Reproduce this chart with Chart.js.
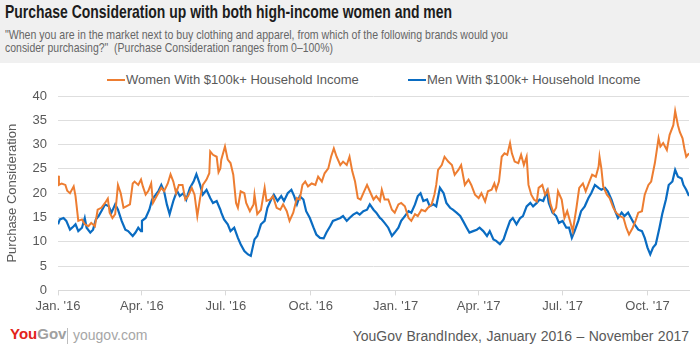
<!DOCTYPE html>
<html><head><meta charset="utf-8">
<script src="https://cdn.jsdelivr.net/npm/chart.js@4/dist/chart.umd.min.js"></script>
<style>
html,body{margin:0;padding:0;background:#fff;width:700px;height:351px;overflow:hidden;font-family:"Liberation Sans",Arial,sans-serif;}
#hdr{position:absolute;left:0;top:0;width:700px;height:63px;background:#f0f0f0;}
.fit{position:absolute;left:5px;white-space:nowrap;transform-origin:0 0;}
#title{top:2.6px;font-weight:bold;font-size:18.5px;line-height:18.5px;color:#1c1c1c;}
#sub1{top:27.5px;font-size:13.5px;line-height:13.5px;color:#666;}
#sub2{top:40.5px;font-size:13.5px;line-height:13.5px;color:#666;}
#legend{position:absolute;top:72px;left:0;width:700px;height:16px;font-size:13px;line-height:16px;color:#595959;}
.li{position:absolute;top:0;white-space:nowrap;}
.sw{display:inline-block;width:18px;height:2px;vertical-align:middle;margin-right:1px;position:relative;top:-1px;}
#wrap{position:absolute;left:0;top:63px;width:700px;height:260px;}
#logo{position:absolute;left:10px;top:326px;font-size:15px;font-weight:bold;line-height:16px;}
#sep{position:absolute;left:67px;top:328px;width:1px;height:16px;background:#bdbdbd;}
#site{position:absolute;left:73px;top:327px;font-size:14px;line-height:16px;color:#a6a6a6;}
#src{position:absolute;top:328px;font-size:14px;line-height:16px;color:#595959;white-space:nowrap;}
</style></head>
<body>
<div id="hdr">
  <div id="title" class="fit">Purchase Consideration up with both high-income women and men</div>
  <div id="sub1" class="fit">"When you are in the market next to buy clothing and apparel, from which of the following brands would you</div>
  <div id="sub2" class="fit">consider purchasing?"&nbsp; (Purchase Consideration ranges from 0–100%)</div>
</div>
<div id="legend"></div>
<div id="wrap"><canvas id="c"></canvas></div>
<div id="logo"><span style="color:#e2231a">You</span><span style="color:#a0a0a0">Gov</span></div>
<div id="sep"></div>
<div id="site">yougov.com</div>
<div id="src">YouGov BrandIndex, January 2016 – November 2017</div>
<script>
// x values are days since 1 Jan 2016
const womenDays = [0,1,4,8,10,13,17,19,22,26,29,33,36,40,43,47,51,54,56,59,62,65,68,71,74,78,81,83,87,90,92,95,98,101,103,107,112,115,119,122,125,128,131,135,138,141,145,148,151,154,157,161,164,165,168,172,174,176,
177,181,184,187,190,193,195,198,202,204,208,212,213,216,220,224,226,230,233,237,241,244,248,251,255,259,262,265,268,271,275,279,282,286,289,293,296,299,302,306,309,313,316,319,322,325,328,331,335,338,342,345,349,
351,354,358,362,365,369,372,376,380,383,387,390,394,398,401,405,408,410,412,416,419,423,427,430,434,437,441,445,448,452,456,459,463,466,470,473,475,478,481,484,487,490,492,495,499,502,505,508,510,513,516,519,521,
525,528,531,534,537,540,542,546,549,552,555,558,562,565,569,572,576,579,583,586,587,589,591,595,598,602,605,609,613,616,619,623,626,629,633,636,640,643,647,651,653,656,660,663,667,669,672,674,677,679,681,684];
const womenValues = [23.6,21.7,22,21.7,20.5,20,21.4,19.4,14.3,14.6,13.6,13.2,13.9,13.2,16.6,17,18,18.9,16,14.9,15.7,21.7,20,17,17.3,17.7,22,22.4,21.7,22.8,21.4,19.7,20.5,22,18,19.4,21.1,20.4,22,23.9,22.4,20,21.7,21.7,18.7,19.4,21.1,19.7,15.3,19,21.7,22.8,24.1,28.6,27.9,27.5,24.3,25.1,
26.9,29.6,26.9,26.2,23.8,18,17,20.4,20,18,16.3,17.7,19.7,15.7,16.6,21.1,18.4,18.7,19.4,17,16.6,17.7,16.3,14.3,16,19,18.7,21.7,22.4,21.4,22,21.7,23.4,22.4,24.1,25.1,27.5,29.2,27.5,25.8,26.5,25.8,27.5,24.5,22.4,19,18.7,20,21.7,20.4,18.7,19.4,18.4,
20.7,18.7,18.7,16.6,16,17.7,18,17.3,14.9,14.3,15.7,15.3,16.6,16.3,17,17.7,19.7,21.7,24.8,25.8,27.5,26.5,25.8,23.8,24.8,25.8,21.7,22.8,21.7,19.7,19,20,18.3,20.4,20.7,22,20.7,22.4,27.5,28.2,27.9,30.3,28.2,26.5,26.2,27.9,25.8,27.5,21.7,19.7,18.7,18.3,21.1,
21.7,19.7,20.7,17.7,16,17,20.4,18.7,14.9,16.3,14.3,12.2,17,21.1,22,20.4,22.4,23.8,23.4,25.5,27.5,25.1,21.4,19.7,19,17,16,15.3,14.9,12.9,11.5,12.9,14.3,16,16.3,19.7,21.7,22.4,26.2,31.3,29.6,30.3,28.9,32,34,36.9,34,32.6,31.3,29.2,27.5,28.2];
const menDays = [0,2,6,9,13,17,19,22,26,29,31,35,38,41,44,47,51,55,58,62,65,69,73,76,81,84,87,90,91,95,99,102,106,109,112,115,118,121,125,129,132,136,139,143,147,150,154,157,161,165,168,172,176,
177,180,184,187,191,195,198,202,206,209,213,216,220,224,227,231,234,238,242,245,249,253,256,259,262,266,269,273,277,280,284,288,291,295,298,302,306,309,313,316,320,324,327,331,335,338,342,345,349,
351,354,358,362,365,369,372,376,380,383,387,390,393,396,400,403,407,410,414,418,421,425,428,432,436,439,443,446,450,454,457,461,465,468,472,475,479,483,486,490,493,497,501,504,508,512,515,519,522,
526,530,532,536,540,543,547,551,554,557,560,564,567,571,575,578,582,586,589,593,596,600,604,607,611,614,618,622,625,629,633,636,639,642,645,648,652,655,659,662,666,669,672,676,678,681,684];
const menValues = [13.6,14.6,14.9,14.3,12.5,13.2,13.6,12.2,12.9,14.9,12.9,11.9,12.5,14.6,15.3,16.3,17.7,17.3,16,17.7,16.6,14.3,12.5,12.2,11.2,11.9,12.9,12.2,14.3,14.9,16.6,18.7,19.7,20.5,21.7,20.4,17.7,15.7,18.4,20.5,19.4,20,18.7,21.1,22.4,23.9,21.7,19.7,20.7,19,18,18.4,16.6,
16,14.6,13.6,12.2,12.9,10.8,9.5,8.1,7.4,7.1,10.5,11.2,13.6,14.3,17,18.7,19.7,18.4,19.4,18.4,20,20.7,19.4,17.7,19.4,18.7,16.3,14.9,12.9,11.5,10.8,10.7,11.9,13.2,14.3,14.6,14.9,15.3,14.3,14.9,15.6,16,15.6,16.3,16.6,17.7,16.6,16,14.9,
14.6,13.9,12.9,11.2,11.9,12.9,14.3,15.3,16.3,16,17.7,19.4,20,18.4,18.7,17.3,17.7,17.3,21.1,20,18,17,16.6,16,15.3,14.3,12.9,11.9,12.2,12.5,12.9,12.2,11.2,12.2,10.5,10.2,9.5,10.5,12.2,14.3,14.9,13.6,14.9,15.3,17.3,18,17.3,18,18.7,
18.4,20.4,18,16,15.3,13.9,14.3,12.9,12.9,10.8,12.2,14.3,16.3,17.3,19,20,21.7,21.1,20.7,21.1,20.4,18.7,16.3,14.9,16,15.3,16,14.6,13.6,12.5,12.2,10.8,8.8,7.4,8.8,9.5,12.9,15.7,18.7,21.7,22.4,24.8,23.4,23,21.7,20.7,19.4];
const tickDays = [0,91,182,274,366,456,547,639];
const tickLabels = ["Jan. '16","Apr. '16","Jul. '16","Oct. '16","Jan. '17","Apr. '17","Jul. '17","Oct. '17"];
const seriesNames = ["Women With $100k+ Household Income","Men With $100k+ Household Income"];
const seriesColors = ["#ED7D31","#0A6CC2"];

// header text fitting (source text is horizontally condensed)
function fitWidth(id, target){
  const el=document.getElementById(id);
  const w=el.getBoundingClientRect().width;
  el.style.transform='scaleX('+(target/w)+')';
}
fitWidth('title',447); fitWidth('sub1',503); fitWidth('sub2',328);
(function(){const s=document.getElementById('src');const w=s.getBoundingClientRect().width;
 const gaps=7; if(w<337){s.style.wordSpacing=((337-w)/gaps)+'px';}
 const w2=s.getBoundingClientRect().width; s.style.left=(689-w2)+'px';})();

// legend
(function(){
  const lg=document.getElementById('legend');
  const xs=[107,408];
  seriesNames.forEach((n,i)=>{
    const d=document.createElement('div');d.className='li';d.style.left=xs[i]+'px';
    d.innerHTML='<span class="sw" style="background:'+seriesColors[i]+'"></span>'+n;
    lg.appendChild(d);
  });
})();

Chart.defaults.font.family="'Liberation Sans', Arial, sans-serif";
Chart.defaults.font.size=13;
Chart.defaults.color='#595959';

const toPts=(xs,ys)=>xs.map((x,i)=>({x:x,y:ys[i]}));
new Chart(document.getElementById('c'),{
  type:'line',
  data:{datasets:[
    {label:seriesNames[0],data:toPts(womenDays,womenValues),borderColor:seriesColors[0],backgroundColor:seriesColors[0],borderWidth:2,pointRadius:0,tension:0,fill:false},
    {label:seriesNames[1],data:toPts(menDays,menValues),borderColor:seriesColors[1],backgroundColor:seriesColors[1],borderWidth:2.2,pointRadius:0,tension:0,fill:false}
  ]},
  options:{
    responsive:true,maintainAspectRatio:false,animation:false,
    layout:{padding:{left:0,right:11,top:33,bottom:6}},
    plugins:{legend:{display:false},tooltip:{enabled:false}},
    scales:{
      x:{type:'linear',min:0,max:684,
        afterBuildTicks:(ax)=>{ax.ticks=tickDays.map(v=>({value:v}));},
        ticks:{autoSkip:false,maxRotation:0,padding:3,color:'#595959',font:{size:13},
          callback:(v)=>{const i=tickDays.indexOf(v);return i>=0?tickLabels[i]:'';}},
        grid:{drawOnChartArea:false,drawTicks:true,tickLength:5,color:'#d9d9d9'},
        border:{display:true,color:'#d9d9d9',width:1}
      },
      y:{min:0,max:40,
        ticks:{stepSize:5,padding:11,color:'#595959',font:{size:13}},
        grid:{color:'#dedede',lineWidth:1,drawTicks:false},
        border:{display:false},
        title:{display:true,text:'Purchase Consideration',color:'#595959',font:{size:13},padding:{top:5,bottom:0}},
        afterFit:(ax)=>{ax.width=58;}
      }
    }
  }
});
</script>
</body></html>
